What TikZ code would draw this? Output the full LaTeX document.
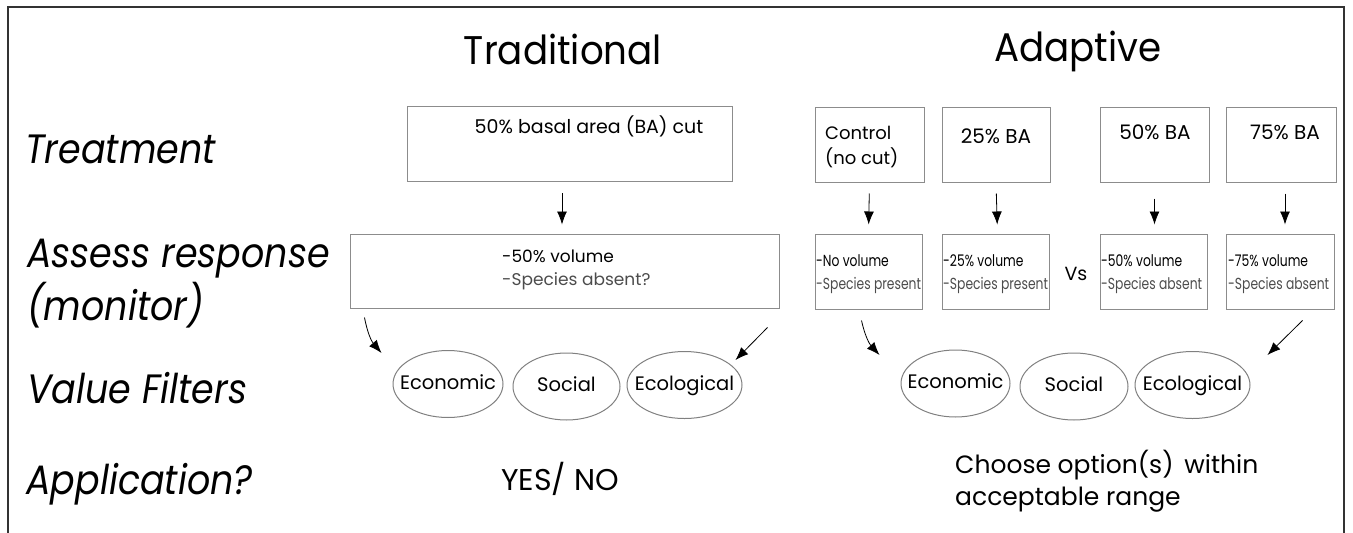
\documentclass[tikz,border=0pt]{standalone}
\usepackage{fontspec}
\setmainfont{Poppins}
\newfontfamily\lblfont[FakeStretch=0.89]{Poppins}
\newfontfamily\headfont[FakeStretch=0.93]{Poppins}
\newfontfamily\narrowfont[FakeStretch=0.77]{Poppins}
\usetikzlibrary{shapes.geometric,arrows.meta}

\begin{document}
\begin{tikzpicture}[x=1pt,y=-1pt,
	box/.style={draw=black!45,line width=1pt,inner sep=0pt,minimum height=75pt},
	filt/.style={ellipse,draw=black!50,line width=1pt,inner sep=0pt,inner xsep=-14pt,minimum height=67pt,text height=14pt,text depth=4pt,font=\fontsize{19.5}{22}\selectfont},
	lbl/.style={anchor=base west,inner sep=0pt,font=\lblfont\fontsize{41}{48}\selectfont\itshape},
	head/.style={anchor=base,inner sep=0pt,font=\headfont\fontsize{40}{48}\selectfont},
	txt/.style={inner sep=0pt,font=\fontsize{19}{25}\selectfont},
	small/.style={inner sep=0pt,anchor=west,align=left,font=\narrowfont\fontsize{16}{23}\selectfont},
	arr/.style={-{Latex[length=13pt,width=10pt]},line width=0.8pt}]
	\useasboundingbox (0,0) rectangle (1353,533);
	\draw[line width=2pt,black!80] (8,533) -- (8,7) -- (1344,7) -- (1344,533);

	% headings and row labels
	\node[head] (trad) at (563,64) {Traditional};
	\node[head] (adap) at (1078,61) {Adaptive};
	\node[lbl] (treatlbl) at (25,163) {Treatment};
	\node[lbl] (resplbl) at (27,267) {Assess response};
	\node[lbl] (monlbl) at (27,320) {(monitor)};
	\node[lbl] (filtlbl) at (27,403) {Value Filters};
	\node[lbl] (applbl) at (26,494) {Application?};

	% traditional
	\node[box,minimum width=325pt] (ttreat) at (569.5,144) {};
	\node[txt,anchor=base] (ttreattxt) at (589,133) {50\% basal area (BA) cut};
	\node[box,minimum width=429pt,minimum height=74pt] (tresp) at (564.5,271) {};
	\node[txt,anchor=west,align=left,font=\fontsize{17}{23}\selectfont] (tresptxt) at (502,269.5) {-50\% volume\\\textcolor{black!70}{-Species absent?}};
	\node[filt,minimum width=110pt] (tecon) at (448,384) {Economic};
	\node[filt,minimum width=107pt] (tsoc) at (566.5,386.5) {Social};
	\node[filt,minimum width=115pt] (teco) at (684.5,385) {Ecological};
	\node[txt,anchor=base,font=\fontsize{30}{36}\selectfont] (yesno) at (560,490) {YES/ NO};

	% adaptive
	\node[box,minimum width=109pt] (actl) at (869.5,144.5) {};
	\node[txt,anchor=west,align=left,font=\fontsize{18}{25}\selectfont] (actltxt) at (825,146.7) {Control\\(no cut)};
	\node[box,minimum width=108pt] (a25) at (996,144.5) {};
	\node[txt,anchor=base,font=\fontsize{20}{24}\selectfont] (a25txt) at (996,143) {25\% BA};
	\node[box,minimum width=109pt] (a50) at (1154.5,144.5) {};
	\node[txt,anchor=base,font=\fontsize{20}{24}\selectfont] (a50txt) at (1155,139) {50\% BA};
	\node[box,minimum width=110pt] (a75) at (1281,144.5) {};
	\node[txt,anchor=base,font=\fontsize{20}{24}\selectfont] (a75txt) at (1285,139) {75\% BA};

	\node[box,minimum width=107pt] (rctl) at (868.5,271.5) {};
	\node[small] (rctltxt) at (816,274.6) {-No volume\\\textcolor{black!70}{-Species present}};
	\node[box,minimum width=107pt] (r25) at (995.5,271.5) {};
	\node[small] (r25txt) at (943,274.6) {-25\% volume\\\textcolor{black!70}{-Species present}};
	\node[txt,anchor=base] (vs) at (1076,280) {Vs};
	\node[box,minimum width=107pt] (r50) at (1153.5,271.5) {};
	\node[small] (r50txt) at (1101,274.6) {-50\% volume\\\textcolor{black!70}{-Species absent}};
	\node[box,minimum width=108pt] (r75) at (1280,271.5) {};
	\node[small] (r75txt) at (1228,274.6) {-75\% volume\\\textcolor{black!70}{-Species absent}};

	\node[filt,minimum width=109pt] (aecon) at (955.5,383.5) {Economic};
	\node[filt,minimum width=108pt] (asoc) at (1074,386.5) {Social};
	\node[filt,minimum width=115pt] (aeco) at (1192.5,385) {Ecological};
	\node[txt,anchor=west,align=left,font=\fontsize{25}{32}\selectfont] (choose) at (955,481) {Choose option(s) \,within\\acceptable range};

	% arrows
	\path[arr,shorten <=11pt,shorten >=9pt]
		([xshift=-7.5pt]ttreat.south) edge ([xshift=-2.5pt]tresp.north)
		(actl.south) edge (rctl.north)
		(a25.south) edge ([xshift=2pt]r25.north)
		([yshift=-5pt]a50.south) edge ([xshift=1pt]r50.north)
		([xshift=4pt]a75.south) edge ([xshift=5pt]r75.north);
	\path[arr]
		([shift={(15,9)}]tresp.south west) edge [bend right=15] ([shift={(-11,-31)}]tecon.west)
		([shift={(-12,19)}]tresp.south east) edge ([shift={(-7,-25)}]teco.east)
		([shift={(47,11)}]rctl.south west) edge [bend right=15] ([shift={(-21,-28.5)}]aecon.west)
		([shift={(-32,11)}]r75.south east) edge ([shift={(17,-30)}]aeco.east);
\end{tikzpicture}
\end{document}
